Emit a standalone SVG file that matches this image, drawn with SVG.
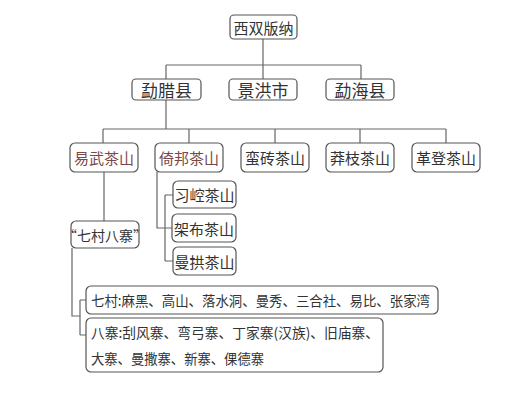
<svg xmlns="http://www.w3.org/2000/svg" width="531" height="400" viewBox="0 0 531 400">
<style>
.box{fill:#fff;stroke:#555;stroke-width:1.2}
.t{font-family:"Noto Sans CJK SC","Noto Sans",sans-serif;fill:#333;text-anchor:middle;dominant-baseline:central}
.l{text-anchor:start}
.red{fill:#7a4848}
.c{fill:none;stroke:#666;stroke-width:1.2}
</style>
<rect width="531" height="400" fill="#fff"/>
<g id="connectors">
<path class="c" d="M263 39V65M166 65H361M166 65V79M263 65V79M361 65V79"/>
<path class="c" d="M166 100V129M103 129H446M103 129V143M189 129V143M275 129V143M360 129V143M446 129V143"/>
<path class="c" d="M157 172V228H172M165 195V261M165 195H173M165 261H173"/>
<path class="c" d="M104 172V221"/>
<path class="c" d="M72 248V316H80M80 300V335M80 300H86M80 335H86"/>
</g>
<g id="n-xsbn"><rect class="box" x="230" y="15" width="67" height="24" rx="4"/><text class="t" x="263.5" y="27" font-size="15">西双版纳</text></g>
<g id="n-mlx"><rect class="box" x="132" y="79" width="69" height="21" rx="4"/><text class="t" x="166.5" y="89.5" font-size="17">勐腊县</text></g>
<g id="n-jhs"><rect class="box" x="229" y="79" width="68" height="21" rx="4"/><text class="t" x="263" y="89.5" font-size="17">景洪市</text></g>
<g id="n-mhx"><rect class="box" x="326" y="79" width="68" height="21" rx="4"/><text class="t" x="360" y="89.5" font-size="17">勐海县</text></g>
<g id="n-yw"><rect class="box" x="70" y="143" width="68" height="29" rx="5"/><text class="t red" x="104" y="157.5" font-size="15">易武茶山</text></g>
<g id="n-yb"><rect class="box" x="155" y="143" width="68" height="29" rx="5"/><text class="t red" x="189" y="157.5" font-size="15">倚邦茶山</text></g>
<g id="n-mz"><rect class="box" x="241" y="143" width="68" height="29" rx="5"/><text class="t" x="275" y="157.5" font-size="15">蛮砖茶山</text></g>
<g id="n-mzh"><rect class="box" x="326" y="143" width="68" height="29" rx="5"/><text class="t" x="360" y="157.5" font-size="15">莽枝茶山</text></g>
<g id="n-gd"><rect class="box" x="412" y="143" width="68" height="29" rx="5"/><text class="t" x="446" y="157.5" font-size="15">革登茶山</text></g>
<g id="n-xk"><rect class="box" x="173" y="181" width="63" height="27" rx="5"/><text class="t" x="204.5" y="194.5" font-size="15">习崆茶山</text></g>
<g id="n-jb"><rect class="box" x="172" y="214" width="64" height="28" rx="5"/><text class="t" x="204" y="228" font-size="15">架布茶山</text></g>
<g id="n-mg"><rect class="box" x="173" y="247" width="63" height="28" rx="5"/><text class="t" x="204.5" y="261" font-size="15">曼拱茶山</text></g>
<g id="n-qcbz"><rect class="box" x="71" y="221" width="68" height="27" rx="5"/><text class="t" x="105" y="234.5" font-size="14">“七村八寨”</text></g>
<g id="n-qc"><rect class="box" x="86" y="286" width="352" height="28" rx="5"/><text class="t l" x="91" y="300" font-size="14" textLength="339" lengthAdjust="spacingAndGlyphs">七村:麻黑、高山、落水洞、曼秀、三合社、易比、张家湾</text></g>
<g id="n-bz"><rect class="box" x="86" y="318" width="297" height="54" rx="5"/><text class="t l" x="91" y="332" font-size="14" textLength="288" lengthAdjust="spacingAndGlyphs">八寨:刮风寨、弯弓寨、丁家寨(汉族)、旧庙寨、</text><text class="t l" x="91" y="358" font-size="14" textLength="173" lengthAdjust="spacingAndGlyphs">大寨、曼撒寨、新寨、倮德寨</text></g>
</svg>
